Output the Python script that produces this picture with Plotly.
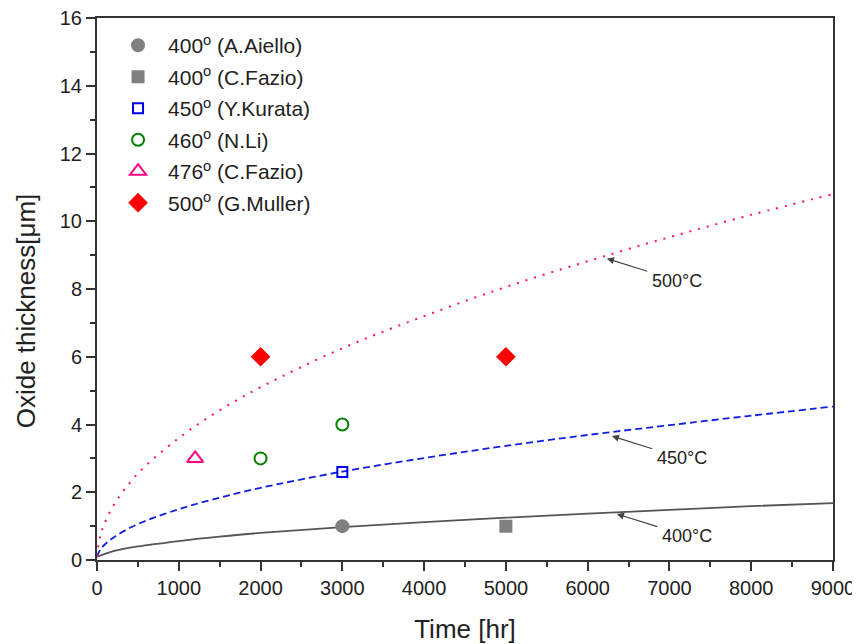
import plotly.graph_objects as go

# Model curves
curve_t = [0, 50, 200, 500, 1000, 1500, 2000, 3000, 4000, 5000, 6000, 7000, 8000, 9000]
curve_400 = [0.1, 0.14, 0.26, 0.4, 0.56, 0.69, 0.8, 0.97, 1.12, 1.25, 1.37, 1.48, 1.59, 1.68]
curve_450 = [0.1, 0.34, 0.66, 1.06, 1.5, 1.84, 2.13, 2.61, 3.01, 3.37, 3.69, 3.98, 4.26, 4.53]
curve_500 = [0.1, 0.8, 1.6, 2.55, 3.6, 4.42, 5.1, 6.25, 7.2, 8.06, 8.82, 9.53, 10.19, 10.8]

# Experimental points
aiello_t, aiello_y = [3000], [1.0]
fazio400_t, fazio400_y = [5000], [1.0]
kurata_t, kurata_y = [3000], [2.6]
li_t, li_y = [2000, 3000], [3.0, 4.0]
fazio476_t, fazio476_y = [1200], [3.0]
muller_t, muller_y = [2000, 5000], [6.0, 6.0]

# Annotation labels
ann_labels = ["500°C", "450°C", "400°C"]
ann_t = [6234, 6295, 6356]
ann_y = [8.9, 3.66, 1.36]

FONT = "Liberation Sans, Arial, sans-serif"
fig = go.Figure()

fig.add_trace(go.Scatter(x=curve_t, y=curve_400, mode="lines", line=dict(color="#555555", width=1.8),
                         line_shape="spline", showlegend=False))
fig.add_trace(go.Scatter(x=curve_t, y=curve_450, mode="lines", line=dict(color="#1020e0", width=1.8, dash="7px,4px"),
                         line_shape="spline", showlegend=False))
fig.add_trace(go.Scatter(x=curve_t, y=curve_500, mode="lines", line=dict(color="#ff1060", width=2, dash="2px,7px"),
                         line_shape="spline", showlegend=False))

pts = [
    (aiello_t, aiello_y, "400<sup>o</sup> (A.Aiello)", "circle", "#808080", 12),
    (fazio400_t, fazio400_y, "400<sup>o</sup> (C.Fazio)", "square", "#808080", 11),
    (kurata_t, kurata_y, "450<sup>o</sup> (Y.Kurata)", "square-open", "#0000ee", 10),
    (li_t, li_y, "460<sup>o</sup> (N.Li)", "circle-open", "#008000", 12),
    (fazio476_t, fazio476_y, "476<sup>o</sup> (C.Fazio)", "triangle-up-open", "#ff0080", 14),
    (muller_t, muller_y, "500<sup>o</sup> (G.Muller)", "diamond", "#ff0000", 13),
]
for i, (x, y, name, sym, col, sz) in enumerate(pts):
    fig.add_trace(go.Scatter(x=x, y=y, mode="markers", name=name, legendgroup=f"g{i}",
                             marker=dict(symbol=sym, color=col, size=sz, line=dict(color=col, width=2))))

axis_common = dict(showline=True, linewidth=2, linecolor="#333333", mirror=True, showgrid=False,
                   zeroline=False, ticks="outside", ticklen=9, tickwidth=2, tickcolor="#333333",
                   automargin=False, ticklabeloverflow="allow",
                   tickfont=dict(family=FONT, size=20, color="#222222"))

fig.update_xaxes(range=[0, 9000], tick0=0, dtick=1000,
                 minor=dict(ticks="outside", ticklen=5, tickwidth=2, tickcolor="#333333", dtick=500),
                 title=dict(text="Time [hr]", font=dict(family=FONT, size=26, color="#222222"), standoff=31),
                 **axis_common)
fig.update_yaxes(range=[0, 16], tick0=0, dtick=2,
                 minor=dict(ticks="outside", ticklen=5, tickwidth=2, tickcolor="#333333", dtick=1),
                 **axis_common)

# y-axis title placed as in the reference (slightly below plot centre)
fig.add_annotation(text="Oxide thickness[μm]", xref="paper", yref="paper",
                   x=-0.097, y=0.46, xanchor="center", yanchor="middle", textangle=-90, showarrow=False,
                   font=dict(family=FONT, size=26, color="#222222"))

for lab, t, y in zip(ann_labels, ann_t, ann_y):
    fig.add_annotation(x=t, y=y, text=lab, showarrow=True, arrowhead=2, arrowsize=1.2, arrowwidth=1.2,
                       arrowcolor="#444444", ax=70, ay=22, standoff=0, borderpad=4,
                       font=dict(family=FONT, size=18, color="#222222"))

fig.update_layout(
    width=852, height=636,
    margin=dict(l=89, r=27, t=10, b=84),
    plot_bgcolor="white", paper_bgcolor="white",
    legend=dict(x=0.015, y=0.987, xanchor="left", yanchor="top", bgcolor="rgba(0,0,0,0)",
                font=dict(family=FONT, size=21, color="#222222"), tracegroupgap=1.2, itemwidth=50),
)

fig.write_html("out.html")
